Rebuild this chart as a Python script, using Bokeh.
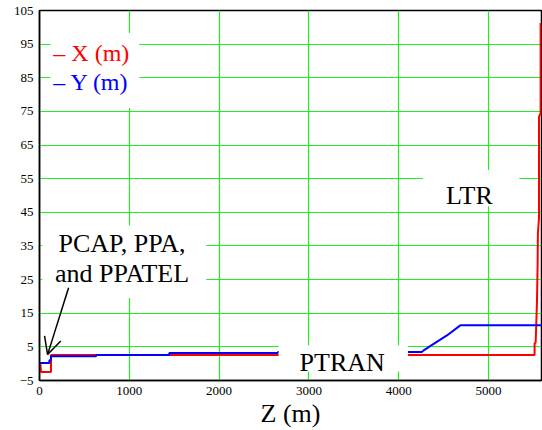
from bokeh.plotting import figure
from bokeh.models import Range1d, Label, BoxAnnotation, Arrow, OpenHead
from bokeh.embed import file_html
from bokeh.resources import INLINE

# ---- data ----
z_x = [9, 17, 128, 128, 5513, 5513, 5525, 5532, 5540, 5547, 5550, 5562, 5562, 5580, 5580]
x_m = [0.0, -2.5, -2.5, 2.6, 2.6, 6.0, 6.3, 12.0, 18.9, 30.0, 38.8, 43.2, 73.4, 74.5, 101.3]

z_y = [0, 110, 110, 128, 128, 630, 630, 1445, 1445, 2655, 2655, 4260, 4274, 4350, 4537, 4686, 5590]
y_m = [0.2, 0.2, 1.0, 1.0, 2.2, 2.2, 2.6, 2.6, 3.2, 3.2, 3.5, 3.5, 3.9, 5.2, 8.4, 11.4, 11.4]

x_ticks = [0, 1000, 2000, 3000, 4000, 5000]
y_ticks = [-5, 5, 15, 25, 35, 45, 55, 65, 75, 85, 95, 105]
y_tick_labels = {-5: "\u22125"}

legend_labels = ["\u2013 X (m)", "\u2013 Y (m)"]
note_labels = ["PCAP, PPA,", "and PPATEL", "PTRAN", "LTR"]

FONT = "Liberation Serif"
GRID = "#22ee22"
TEXT_SHIFT = 2.3  # baseline correction in data units

p = figure(width=542, height=430, output_backend="svg", toolbar_location=None,
           x_range=Range1d(0, 5590), y_range=Range1d(-5, 105),
           min_border_left=39, min_border_right=1, min_border_top=10, min_border_bottom=50)
p.background_fill_color = "white"
p.border_fill_color = "white"
p.outline_line_color = "black"
p.outline_line_width = 1.5

p.xaxis.ticker = x_ticks
p.yaxis.ticker = y_ticks
p.yaxis.major_label_overrides = y_tick_labels
for ax in (p.xaxis, p.yaxis):
    ax.axis_line_color = "black"
    ax.axis_line_width = 1.5
    ax.major_tick_line_color = None
    ax.minor_tick_line_color = None
    ax.major_tick_out = 0
    ax.major_tick_in = 0
    ax.major_label_text_font = FONT
    ax.major_label_text_font_size = "13px"
    ax.major_label_text_color = "black"
p.yaxis.major_label_standoff = 6
p.xaxis.major_label_standoff = 6
p.xaxis.axis_label = "Z (m)"
p.xaxis.axis_label_text_font = FONT
p.xaxis.axis_label_text_font_size = "26px"
p.xaxis.axis_label_text_font_style = "normal"
p.xaxis.axis_label_text_color = "black"
p.xaxis.axis_label_standoff = 1

for g in (p.xgrid, p.ygrid):
    g.grid_line_color = GRID
    g.grid_line_width = 1.2

p.line(z_x, x_m, line_color="#ff0000", line_width=2)
p.line(z_y, y_m, line_color="#0000ff", line_width=2)

def box(l, r, b, t):
    p.add_layout(BoxAnnotation(left=l, right=r, bottom=b, top=t, fill_color="white",
                               fill_alpha=1.0, line_color=None))

def label(x, y, text, color="black", size="26px", align="left"):
    p.add_layout(Label(x=x, y=y + TEXT_SHIFT, text=text, text_font=FONT, text_font_size=size,
                       text_color=color, text_align=align, text_baseline="alphabetic"))

# legend
box(122, 1111, 76, 98.3)
label(154, 90.2, legend_labels[0], color="#ff0000", size="24px")
label(154, 81.3, legend_labels[1], color="#0000ff", size="24px")

# PCAP note with arrow
box(31, 1857, 19.5, 41.1)
label(919, 33.5, note_labels[0], align="center")
label(919, 24.6, note_labels[1], align="center")
p.add_layout(Arrow(end=OpenHead(size=17, line_width=1.5, line_color="black"),
                   x_start=324, y_start=22.6, x_end=90, y_end=2.7,
                   line_width=1.5, line_color="black"))

# PTRAN
box(2663, 4103, -2.3, 5.5)
label(2896, -1.94, note_labels[2])

# LTR
box(4270, 5343, 46.8, 57.6)
label(4527, 47.8, note_labels[3])

open("out.html", "w").write(file_html(p, INLINE))
